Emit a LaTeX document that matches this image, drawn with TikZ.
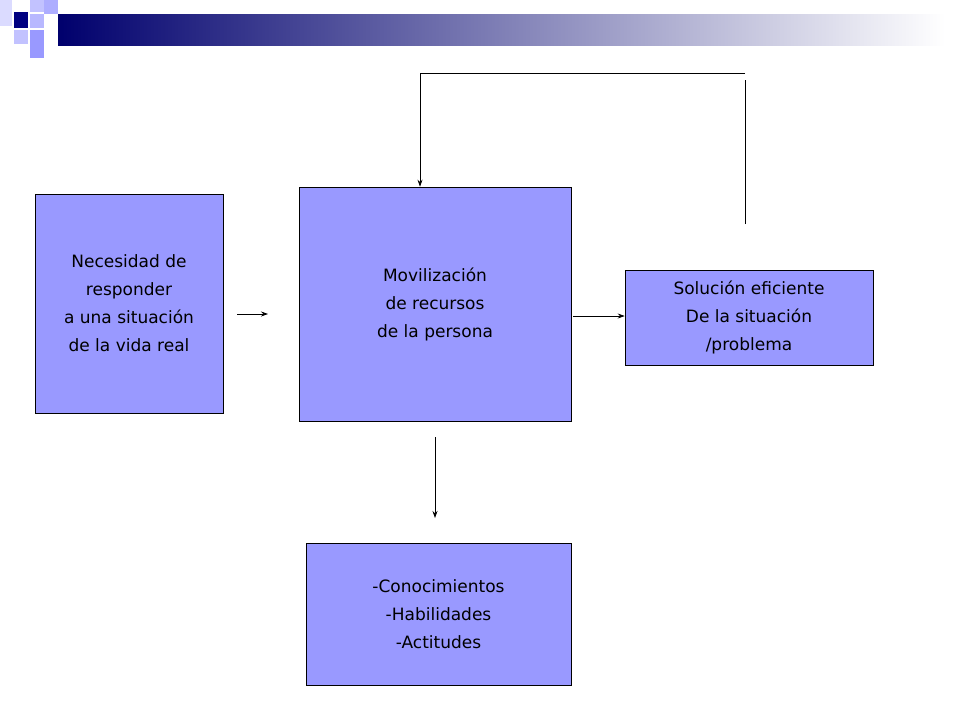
\documentclass[tikz,border=0pt]{standalone}
\usepackage{fontspec}
\setmainfont{DejaVu Sans}
\usetikzlibrary{arrows.meta}
\definecolor{boxfill}{HTML}{9999FF}
\definecolor{navy}{HTML}{000080}
\begin{document}
\begin{tikzpicture}[x=1pt,y=-1pt,
  box/.style={draw=black,fill=boxfill,line width=0.6pt,align=center,font=\fontsize{17}{28}\selectfont,inner sep=0pt},
  arr/.style={-{Stealth[length=7pt,width=5pt]},line width=0.8pt}]
\useasboundingbox (0,0) rectangle (960,720);
% header decoration
\shade[left color=navy!85!black,right color=white] (58,14) rectangle (945,45);
\fill[navy] (14,12) rectangle (28,28);
\fill[boxfill!60] (30,0) rectangle (44,12);
\fill[boxfill!70] (30,14) rectangle (44,28);
\fill[boxfill!80] (44,0) rectangle (58,14);
\fill[boxfill!60] (14,30) rectangle (28,44);
\fill[boxfill] (30,30) rectangle (44,44);
\fill[boxfill!35] (0,0) rectangle (12,26);
\fill[boxfill] (30,44) rectangle (44,58);
% boxes
\node[box,minimum width=188pt,minimum height=219pt] (a) at (129,303.5) {Necesidad de \\ responder\\a una situación\\de la vida real};
\node[box,minimum width=272pt,minimum height=234pt] (b) at (435,304) {Movilización\\de recursos\\de la persona};
\node[box,minimum width=248pt,minimum height=95pt] (c) at (749,317.5) {Solución eficiente\\De la situación\\/problema};
\node[box,minimum width=265pt,minimum height=142pt] (d) at (438.5,614) {-Conocimientos\\-Habilidades\\-Actitudes};
% arrows
\coordinate (a1) at (237,314);
\coordinate (a2) at (268,314);
\draw[arr] (a1) -- (a2);
\draw[arr] (573,316) -- (c.west|-0,316);
\coordinate (d1) at (435,437);
\coordinate (d2) at (435,518);
\draw[arr] (d1) -- (d2);
\coordinate (f1) at (745,224);
\coordinate (f2) at (745,80);
\draw[line width=0.8pt] (f1) -- (f2);
\coordinate (t1) at (745,73);
\coordinate (t2) at (420,73);
\draw[arr] (t1) -- (t2) -- (b.north-|t2);
\end{tikzpicture}
\end{document}
